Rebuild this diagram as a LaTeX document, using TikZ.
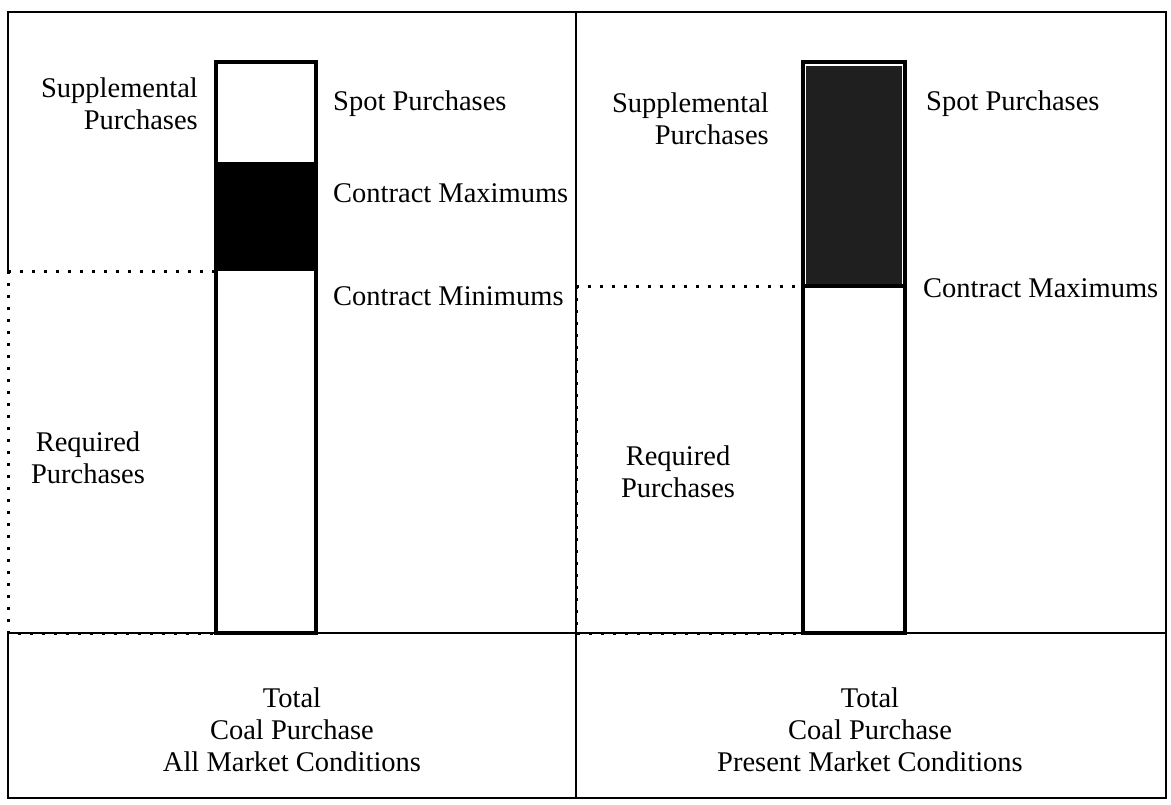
\documentclass[tikz,border=0pt]{standalone}
\usepackage{fontspec}
\setmainfont{Liberation Serif}
\usetikzlibrary{positioning}

\tikzset{
  lbl/.style={font=\fontsize{28.5}{32}\selectfont, inner sep=0pt, align=center},
  frame/.style={line width=2.4pt},
  bar/.style={draw, line width=3.2pt},
  dots/.style={line width=3pt, dash pattern=on 3pt off 9pt},
}

\begin{document}
\begin{tikzpicture}[x=1pt,y=-1pt]
  \useasboundingbox (0,0) rectangle (1171,804);
  % outer frame and dividers
  \draw[frame] (8,633) -- (8,798) -- (1166,798) -- (1166,12) -- (8,12) -- (8,271);
  \draw[frame] (576,12) -- (576,798);
  \draw[line width=1.8pt] (8,633) -- (1166,633);
  % left panel
  \fill (216,162) rectangle (316,271);
  \draw[bar] (216,62) rectangle (316,633);
  \draw[dots] (8,271) -- (216,271) -- (216,633);
  \draw[dots] (8,271) -- (8,633) -- (216,633);
  \node (suppl) [lbl, align=right, anchor=east] at (198,104) {Supplemental\\Purchases};
  \node (spot) [lbl, anchor=west] at (333,104) {Spot Purchases};
  \node (cmax) [lbl, anchor=west] at (333,193) {Contract Maximums};
  \node (cmin) [lbl, anchor=west] at (333,296) {Contract Minimums};
  \node (req) [lbl] at (88,458) {Required\\Purchases};
  \node (total) [lbl] at (292,730) {Total\\Coal Purchase\\All Market Conditions};
  % right panel
  \fill[black!88] (806,66) rectangle (902,284);
  \draw[bar] (803,62) rectangle (905,633);
  \draw[bar] (803,286) -- (905,286);
  \draw[dots] (576,286) -- (803,286) -- (803,633);
  \draw[dots] (576,286) -- (576,633) -- (803,633);
  \node (supplp) [lbl, align=right, anchor=east] at (769,119) {Supplemental\\Purchases};
  \node (spotp) [lbl, anchor=west] at (926,104) {Spot Purchases};
  \node (cmaxp) [lbl, anchor=west] at (923,288) {Contract Maximums};
  \node (reqp) [lbl] at (678,472) {Required\\Purchases};
  \node (totalp) [lbl] at (870,730) {Total\\Coal Purchase\\Present Market Conditions};
\end{tikzpicture}
\end{document}
